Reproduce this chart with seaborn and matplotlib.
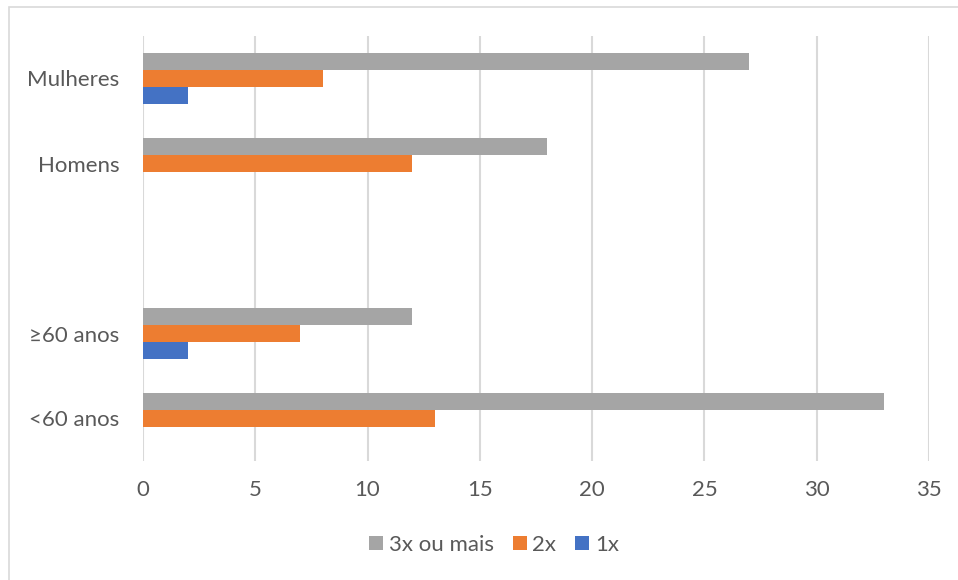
import matplotlib
matplotlib.use("Agg")
import matplotlib.pyplot as plt
from matplotlib.patches import Rectangle
import pandas as pd
import seaborn as sns

categories = ["Mulheres", "Homens", " ", "≥60 anos", "<60 anos"]
series = ["3x ou mais", "2x", "1x"]
vals_3x = [27, 18, None, 12, 33]
vals_2x = [8, 12, None, 7, 13]
vals_1x = [2, 0, None, 2, 0]
x_ticks = [0, 5, 10, 15, 20, 25, 30, 35]

colors = ["#A5A5A5", "#ED7D31", "#4472C4"]
text_color = "#595959"
grid_color = "#D9D9D9"

rows = []
for s, vals in zip(series, [vals_3x, vals_2x, vals_1x]):
    for c, v in zip(categories, vals):
        if v is not None:
            rows.append({"categoria": c, "serie": s, "valor": v})
df = pd.DataFrame(rows)

sns.set_theme(style="white")
plt.rcParams["font.family"] = ["Lato", "DejaVu Sans"]

fig = plt.figure(figsize=(9.58, 5.8), dpi=100)
ax = fig.add_axes([143 / 958, 1 - 461 / 580, 786 / 958, 425 / 580])

sns.barplot(data=df, y="categoria", x="valor", hue="serie",
            order=categories, hue_order=series, palette=colors,
            orient="h", width=0.6, linewidth=0, saturation=1,
            errorbar=None, ax=ax)

ax.set_xlim(0, 35)
ax.set_ylim(len(categories) - 0.5, -0.5)
ax.set_xticks(x_ticks)
ax.set_xticklabels([str(t) for t in x_ticks])
ax.set_xlabel("")
ax.set_ylabel("")
ax.xaxis.grid(True, color=grid_color, linewidth=1.5)
ax.set_axisbelow(True)
for sp in ax.spines.values():
    sp.set_visible(False)
ax.tick_params(axis="both", length=0, labelsize=16, colors=text_color)
ax.tick_params(axis="x", pad=14)
ax.tick_params(axis="y", pad=17)

ax.legend(loc="center", bbox_to_anchor=(494 / 958, (580 - 545) / 580),
          bbox_transform=fig.transFigure, ncol=3, frameon=False,
          fontsize=16, labelcolor=text_color, handlelength=0.63,
          handleheight=0.63, handletextpad=0.25, columnspacing=0.85)

# light chart-area border along the top and left edges
fig.patches.append(Rectangle((9 / 958, -0.1), 1.2, 1.1 - 7 / 580,
                             transform=fig.transFigure, fill=False,
                             edgecolor="#D9D9D9", linewidth=1.2))

fig.savefig("out.png", dpi=100, facecolor="white")
